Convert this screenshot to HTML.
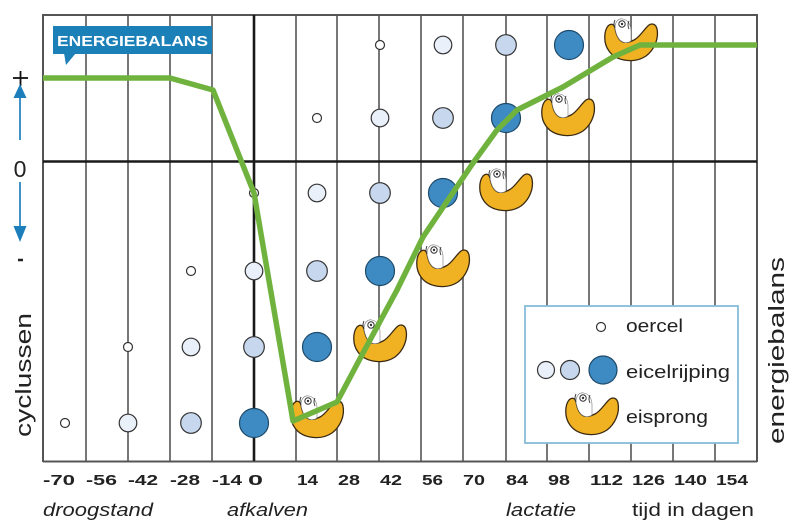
<!DOCTYPE html>
<html><head><meta charset="utf-8"><style>
html,body{margin:0;padding:0;background:#fff}
svg{display:block}
text{font-family:"Liberation Sans",sans-serif}
</style></head><body>
<svg width="799" height="524" viewBox="0 0 799 524" xmlns="http://www.w3.org/2000/svg">
<defs>
<g id="eis">
<path d="M4 7 C0 12,-1 24,5 32 C12 42,30 45,42 37 C50 31,55 20,53 10 C52 5,48 4,45 6 C40 10,36 18,30 21 C26 23,22 24,19 23 C14 21,12 15,11 9 C10 5,7 4,4 7 Z" fill="#f0b223" stroke="#3a2a12" stroke-width="1.3"/>
<path d="M11 9 C11 2,15 -1,19 0 C24 1,27 6,27 12 L27 22 C24 24,21 24,19 23 C14 21,12 15,11 9 Z" fill="#fff" stroke="#777" stroke-width="0.6"/>
<circle cx="18" cy="5" r="3.2" fill="#fff" stroke="#333" stroke-width="1"/>
<circle cx="18" cy="5" r="1.2" fill="#333"/>
<path d="M11 1 Q9 5 11 9" fill="none" stroke="#333" stroke-width="0.9"/>
<path d="M25 2 Q23 6 25 10" fill="none" stroke="#333" stroke-width="0.9"/>
</g>
</defs>

<!-- grid vertical lines -->
<g stroke="#555" stroke-width="1.6">
<line x1="86" y1="15" x2="86" y2="461"/>
<line x1="128" y1="15" x2="128" y2="461"/>
<line x1="170" y1="15" x2="170" y2="461"/>
<line x1="212" y1="15" x2="212" y2="461"/>
<line x1="296" y1="15" x2="296" y2="461"/>
<line x1="337" y1="15" x2="337" y2="461"/>
<line x1="379" y1="15" x2="379" y2="461"/>
<line x1="421" y1="15" x2="421" y2="461"/>
<line x1="463" y1="15" x2="463" y2="461"/>
<line x1="506" y1="15" x2="506" y2="461"/>
<line x1="547" y1="15" x2="547" y2="461"/>
<line x1="589" y1="15" x2="589" y2="461"/>
<line x1="631" y1="15" x2="631" y2="461"/>
<line x1="673" y1="15" x2="673" y2="461"/>
<line x1="715" y1="15" x2="715" y2="461"/>
</g>
<!-- frame -->
<g stroke="#555" stroke-width="2" fill="none">
<line x1="43" y1="15" x2="757" y2="15"/>
<line x1="43" y1="14" x2="43" y2="462"/>
<line x1="757" y1="14" x2="757" y2="462"/>
<line x1="43" y1="461.5" x2="757" y2="461.5"/>
</g>
<line x1="254" y1="15" x2="254" y2="461" stroke="#1a1a1a" stroke-width="2.6"/>
<line x1="43" y1="161.5" x2="757" y2="161.5" stroke="#1a1a1a" stroke-width="2.6"/>

<!-- legend box -->
<rect x="525" y="306" width="213" height="137" fill="#fff" stroke="#86bcd9" stroke-width="1.8"/>

<!-- circles -->
<g stroke="#333" stroke-width="1.2">
<!-- small -->
<g fill="#fff">
<circle cx="65" cy="423" r="4.5"/>
<circle cx="128" cy="347" r="4.5"/>
<circle cx="191" cy="271" r="4.5"/>
<circle cx="254" cy="193" r="4.5"/>
<circle cx="317" cy="118" r="4.5"/>
<circle cx="380" cy="45" r="4.5"/>
<circle cx="601" cy="327" r="4.5"/>
</g>
<!-- light -->
<g fill="#eaf0f9">
<circle cx="128" cy="423" r="8.8"/>
<circle cx="191" cy="347" r="8.8"/>
<circle cx="254" cy="271" r="8.8"/>
<circle cx="317" cy="193" r="8.8"/>
<circle cx="380" cy="118" r="8.8"/>
<circle cx="443" cy="45" r="8.8"/>
<circle cx="546" cy="370" r="8.5"/>
</g>
<!-- medium -->
<g fill="#c7d8ee">
<circle cx="191" cy="423" r="10.3"/>
<circle cx="254" cy="347" r="10.3"/>
<circle cx="317" cy="271" r="10.3"/>
<circle cx="380" cy="193" r="10.3"/>
<circle cx="443" cy="118" r="10.3"/>
<circle cx="506" cy="45" r="10.3"/>
<circle cx="570" cy="370" r="9.5"/>
</g>
<!-- blue -->
<g fill="#3e8bc3" stroke="#1e4a6a">
<circle cx="254" cy="423" r="14.5"/>
<circle cx="317" cy="347" r="14.5"/>
<circle cx="380" cy="271" r="14.5"/>
<circle cx="443" cy="193" r="14.5"/>
<circle cx="506" cy="118" r="14.5"/>
<circle cx="569" cy="45" r="14.5"/>
<circle cx="603" cy="370" r="14"/>
</g>
</g>

<!-- eisprong -->
<use href="#eis" x="290" y="396"/>
<use href="#eis" x="353" y="320"/>
<use href="#eis" x="416" y="245"/>
<use href="#eis" x="479" y="169"/>
<use href="#eis" x="541" y="94"/>
<use href="#eis" x="604" y="19"/>
<use href="#eis" x="565" y="393"/>

<!-- green line -->
<polyline fill="none" stroke="#6fb33e" stroke-width="5.5" stroke-linejoin="round" points="43,78 170,78 213,90 254,193 293,421 337,402 363,353 397,290 423,237 450,197 473,163 497,130 517,110 563,87 613,57 640,45 757,45"/>

<!-- ENERGIEBALANS label -->
<rect x="53" y="26" width="159" height="28" fill="#1c80b8"/>
<polygon points="64,53 76,53 66,65" fill="#1c80b8"/>
<text x="57" y="46" font-size="15" font-weight="bold" fill="#fff" textLength="151" lengthAdjust="spacingAndGlyphs">ENERGIEBALANS</text>

<!-- left axis -->
<line x1="13" y1="78" x2="28" y2="78" stroke="#111" stroke-width="1.8"/>
<line x1="20.5" y1="71" x2="20.5" y2="86" stroke="#111" stroke-width="1.8"/>
<line x1="20" y1="95" x2="20" y2="140" stroke="#2a86bf" stroke-width="1.8"/>
<polygon points="20,84 13.5,98 26.5,98" fill="#1c7fbb"/>
<text x="20" y="177" font-size="23" text-anchor="middle" fill="#222">0</text>
<line x1="20" y1="182" x2="20" y2="228" stroke="#2a86bf" stroke-width="1.8"/>
<polygon points="20,242 13.5,226 26.5,226" fill="#1c7fbb"/>
<line x1="18" y1="260" x2="23" y2="260" stroke="#222" stroke-width="2.5"/>
<text transform="translate(31,437) rotate(-90)" font-size="22" fill="#222" textLength="124" lengthAdjust="spacingAndGlyphs">cyclussen</text>
<text transform="translate(784,444) rotate(-90)" font-size="22" fill="#222" textLength="187" lengthAdjust="spacingAndGlyphs">energiebalans</text>

<!-- legend text -->
<g font-size="18" fill="#222">
<text x="626" y="332" textLength="57" lengthAdjust="spacingAndGlyphs">oercel</text>
<text x="626" y="378" textLength="104" lengthAdjust="spacingAndGlyphs">eicelrijping</text>
<text x="626" y="423" textLength="82" lengthAdjust="spacingAndGlyphs">eisprong</text>
</g>

<!-- bottom tick labels -->
<g font-size="15" font-weight="bold" fill="#222" lengthAdjust="spacingAndGlyphs">
<text x="43" y="485" textLength="32" lengthAdjust="spacingAndGlyphs">-70</text>
<text x="86" y="485" textLength="31" lengthAdjust="spacingAndGlyphs">-56</text>
<text x="128" y="485" textLength="30" lengthAdjust="spacingAndGlyphs">-42</text>
<text x="170" y="485" textLength="30" lengthAdjust="spacingAndGlyphs">-28</text>
<text x="212" y="485" textLength="30" lengthAdjust="spacingAndGlyphs">-14</text>
<text x="248" y="485" textLength="15" lengthAdjust="spacingAndGlyphs">0</text>
<text x="297" y="485" textLength="21" lengthAdjust="spacingAndGlyphs">14</text>
<text x="338" y="485" textLength="22" lengthAdjust="spacingAndGlyphs">28</text>
<text x="380" y="485" textLength="22" lengthAdjust="spacingAndGlyphs">42</text>
<text x="422" y="485" textLength="21" lengthAdjust="spacingAndGlyphs">56</text>
<text x="463" y="485" textLength="22" lengthAdjust="spacingAndGlyphs">70</text>
<text x="506" y="485" textLength="22" lengthAdjust="spacingAndGlyphs">84</text>
<text x="548" y="485" textLength="22" lengthAdjust="spacingAndGlyphs">98</text>
<text x="590" y="485" textLength="33" lengthAdjust="spacingAndGlyphs">112</text>
<text x="632" y="485" textLength="33" lengthAdjust="spacingAndGlyphs">126</text>
<text x="674" y="485" textLength="33" lengthAdjust="spacingAndGlyphs">140</text>
<text x="716" y="485" textLength="32" lengthAdjust="spacingAndGlyphs">154</text>
</g>

<!-- bottom phase labels -->
<g font-size="18" fill="#222">
<text x="43" y="516" font-style="italic" textLength="110" lengthAdjust="spacingAndGlyphs">droogstand</text>
<text x="227" y="516" font-style="italic" textLength="81" lengthAdjust="spacingAndGlyphs">afkalven</text>
<text x="506" y="516" font-style="italic" textLength="70" lengthAdjust="spacingAndGlyphs">lactatie</text>
<text x="632" y="516" textLength="122" lengthAdjust="spacingAndGlyphs">tijd in dagen</text>
</g>
</svg>
</body></html>
